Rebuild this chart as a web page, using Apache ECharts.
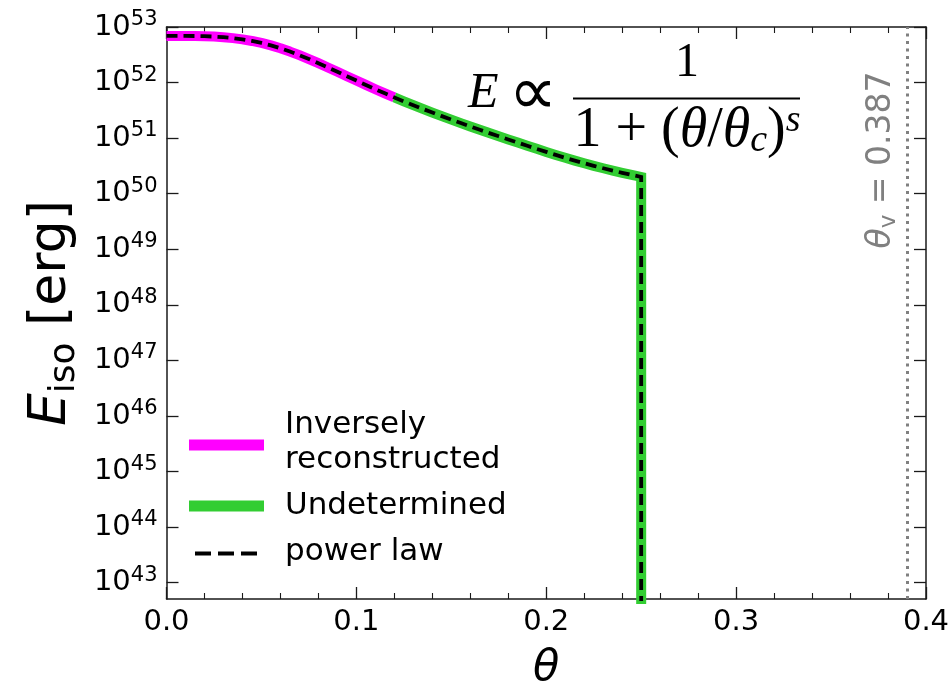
<!DOCTYPE html>
<html><head><meta charset="utf-8">
<script src="https://cdn.jsdelivr.net/npm/echarts@6/dist/echarts.min.js"></script>
<style>html,body{margin:0;padding:0;background:#fff}#c{width:949px;height:685px}</style>
</head><body><div id="c"></div>
<script>
// ---- data ----
const theta = [0.000,0.005,0.010,0.015,0.020,0.025,0.030,0.035,0.040,0.045,
  0.050,0.055,0.060,0.065,0.070,0.075,0.080,0.085,0.090,0.095,
  0.100,0.105,0.110,0.115,0.120,0.125,0.130,0.135,0.140,0.145,
  0.150,0.155,0.160,0.165,0.170,0.175,0.180,0.185,0.190,0.195,
  0.200,0.205,0.210,0.215,0.220,0.225,0.230,0.235,0.240,0.245,0.250];
// log10 of E_iso [erg]
const logEiso = [52.840,52.840,52.840,52.838,52.834,52.827,52.816,52.800,52.778,52.749,
  52.713,52.669,52.617,52.558,52.493,52.423,52.349,52.272,52.194,52.115,
  52.036,51.958,51.881,51.806,51.733,51.662,51.593,51.526,51.460,51.396,
  51.333,51.271,51.210,51.150,51.091,51.033,50.976,50.920,50.863,50.807,
  50.752,50.698,50.646,50.596,50.548,50.502,50.458,50.416,50.376,50.338,50.302];
const splitTheta = 0.12;      // end of "Inversely reconstructed" part
const cutoffTheta = 0.25;     // energy drops to ~0 here
const cutoffEnergy = 1e30;    // below the axis floor
const thetaV = 0.387;
const xTicks = [0, 0.1, 0.2, 0.3, 0.4];
const yTickExps = [43,44,45,46,47,48,49,50,51,52,53];
const yMinExp = 42.707, yMaxExp = 53;
const legendNames = ['Inversely\nreconstructed', 'Undetermined', 'power law'];

// ---- build ----
const pts = theta.map((t, i) => [t, Math.pow(10, logEiso[i])]);
const magentaData = pts.filter(p => p[0] <= splitTheta + 1e-9);
const greenData = pts.filter(p => p[0] >= splitTheta - 1e-9).concat([[cutoffTheta, cutoffEnergy]]);
const blackData = pts.concat([[cutoffTheta, cutoffEnergy]]);
const yTickVals = yTickExps.map(e => Math.pow(10, e));
const yMin = Math.pow(10, yMinExp), yMax = Math.pow(10, yMaxExp);

const AX = '#1a1a1a';
const FONT = 'DejaVu Sans';
const SERIF = 'Liberation Serif';

function xAxisCfg(pos, labels) {
  return {
    type: 'value', position: pos, min: xTicks[0], max: xTicks[xTicks.length - 1], interval: 0.1,
    axisLine: {show: true, onZero: false, lineStyle: {color: AX, width: 1.5}},
    axisTick: {show: true, inside: true, length: 12, lineStyle: {color: AX, width: 1.3}},
    minorTick: {show: true, splitNumber: 5, length: 6, lineStyle: {color: AX, width: 1.1}},
    splitLine: {show: false}, minorSplitLine: {show: false},
    axisLabel: {show: labels, margin: 9, fontSize: 29, fontFamily: FONT, color: '#000',
      showMinLabel: true, showMaxLabel: true, formatter: v => v.toFixed(1)},
    name: labels ? 'θ' : '', nameLocation: 'middle', nameGap: 48,
    nameTextStyle: {fontSize: 43, fontStyle: 'italic', fontFamily: FONT, color: '#000'}
  };
}
function yAxisCfg(pos, labels) {
  return {
    type: 'log', logBase: 10, position: pos, min: yMin, max: yMax,
    axisLine: {show: true, onZero: false, lineStyle: {color: AX, width: 1.5}},
    axisTick: {show: true, inside: true, length: 12, customValues: yTickVals, lineStyle: {color: AX, width: 1.3}},
    minorTick: {show: false}, splitLine: {show: false},
    axisLabel: {show: labels, customValues: yTickVals, margin: 9,
      formatter: v => '{b|10}{s|' + Math.round(Math.log10(v)) + '}',
      rich: {
        b: {fontSize: 29, fontFamily: FONT, color: '#000', lineHeight: 36},
        s: {fontSize: 21, fontFamily: FONT, color: '#000', lineHeight: 22, verticalAlign: 'top'}
      }},
    name: labels ? '{e|E}{s|iso}{r| [erg]}' : '', nameLocation: 'middle', nameRotate: 90, nameGap: 84,
    nameTextStyle: {
      rich: {
        e: {fontSize: 52, fontStyle: 'italic', fontFamily: FONT, color: '#000', lineHeight: 62},
        s: {fontSize: 36, fontFamily: FONT, color: '#000', lineHeight: 44, verticalAlign: 'bottom'},
        r: {fontSize: 52, fontFamily: FONT, color: '#000', lineHeight: 62}
      }
    }
  };
}

const chart = echarts.init(document.getElementById('c'), null, {renderer: 'canvas'});
const option = {
  animation: false,
  backgroundColor: '#fff',
  grid: {left: 166.5, right: 23, top: 27, bottom: 86, containLabel: false, outerBoundsMode: 'none'},
  xAxis: [xAxisCfg('bottom', true), xAxisCfg('top', false)],
  yAxis: [yAxisCfg('left', true), yAxisCfg('right', false)],
  series: [
    {name: legendNames[0], type: 'line', data: magentaData, showSymbol: false, clip: true,
      lineStyle: {color: '#ff00ff', width: 10, cap: 'butt', join: 'round'}, z: 2},
    {name: legendNames[1], type: 'line', data: greenData, showSymbol: false, clip: true,
      lineStyle: {color: '#32cd32', width: 10, cap: 'butt', join: 'miter'}, z: 3},
    {name: legendNames[2], type: 'line', data: blackData, showSymbol: false, clip: true,
      lineStyle: {color: '#000', width: 3.8, type: [11, 6], cap: 'butt', join: 'miter'}, z: 4,
      markLine: {silent: true, symbol: 'none', label: {show: false},
        lineStyle: {color: '#808080', width: 3, type: [3, 4.5], cap: 'butt'},
        data: [{xAxis: thetaV}]}}
  ],
  graphic: [
    // legend
    {type: 'rect', shape: {x: 189, y: 439.5, width: 75, height: 11}, style: {fill: '#ff00ff'}},
    {type: 'text', x: 285, y: 425, style: {text: 'Inversely', font: '31px "DejaVu Sans"', fill: '#000', verticalAlign: 'middle'}},
    {type: 'text', x: 285, y: 460, style: {text: 'reconstructed', font: '31px "DejaVu Sans"', fill: '#000', verticalAlign: 'middle'}},
    {type: 'rect', shape: {x: 189, y: 500.5, width: 75, height: 11}, style: {fill: '#32cd32'}},
    {type: 'text', x: 285, y: 506, style: {text: 'Undetermined', font: '31px "DejaVu Sans"', fill: '#000', verticalAlign: 'middle'}},
    {type: 'line', shape: {x1: 195, y1: 553.5, x2: 257, y2: 553.5}, style: {stroke: '#000', lineWidth: 4, lineDash: [16, 7]}},
    {type: 'text', x: 285, y: 552, style: {text: 'power law', font: '31px "DejaVu Sans"', fill: '#000', verticalAlign: 'middle'}},
    // theta_v label
    {type: 'text', x: 881, y: 160, rotation: Math.PI / 2,
      style: {text: '{t|θ}{v|v}{a| = 0.387}', align: 'center', verticalAlign: 'middle',
        rich: {
          t: {fontSize: 33, fontStyle: 'italic', fontFamily: FONT, fill: '#808080', lineHeight: 40},
          v: {fontSize: 23, fontFamily: FONT, fill: '#808080', lineHeight: 28, verticalAlign: 'bottom'},
          a: {fontSize: 33, fontFamily: FONT, fill: '#808080', lineHeight: 40}
        }}},
    // formula
    {type: 'text', x: 468, y: 94, style: {text: 'E', font: 'italic 50px "Liberation Serif"', fill: '#000', verticalAlign: 'middle'}},
    {type: 'text', x: 533, y: 96, style: {text: '∝', font: '68px "DejaVu Sans"', fill: '#000', align: 'center', verticalAlign: 'middle'}},
    {type: 'text', x: 687, y: 63, style: {text: '1', font: '48px "Liberation Serif"', fill: '#000', align: 'center', verticalAlign: 'middle'}},
    {type: 'line', shape: {x1: 573, y1: 98.5, x2: 800, y2: 98.5}, style: {stroke: '#000', lineWidth: 2}},
    {type: 'text', x: 687, y: 131, style: {
      text: '{n|1 + (}{i|θ}{n|/}{i|θ}{c|c}{n|)}{p|s}', align: 'center', verticalAlign: 'middle',
      rich: {
        n: {fontSize: 56, fontFamily: SERIF, fill: '#000', lineHeight: 58},
        i: {fontSize: 56, fontFamily: SERIF, fontStyle: 'italic', fill: '#000', lineHeight: 58},
        c: {fontSize: 38, fontFamily: SERIF, fontStyle: 'italic', fill: '#000', lineHeight: 34, verticalAlign: 'bottom'},
        p: {fontSize: 38, fontFamily: SERIF, fontStyle: 'italic', fill: '#000', lineHeight: 34, verticalAlign: 'top'}
      }}}
  ]
};
chart.setOption(option);
</script></body></html>
